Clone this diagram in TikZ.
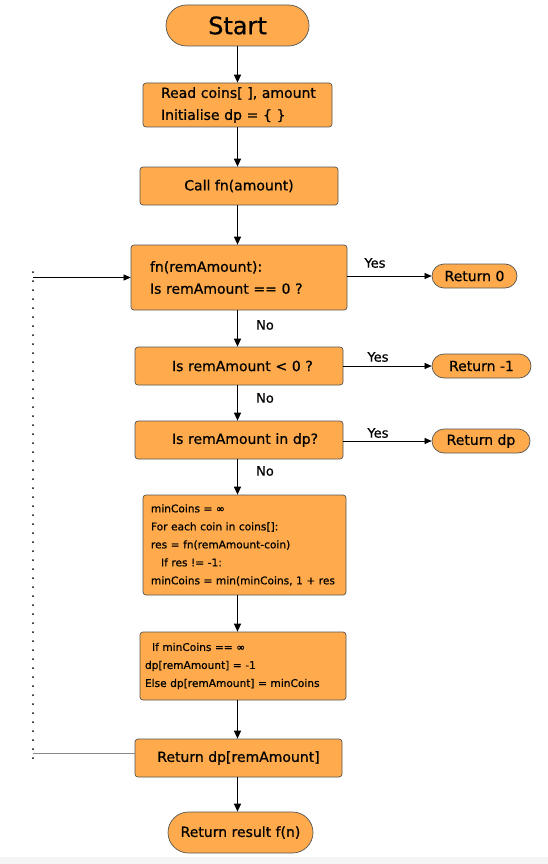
\documentclass[tikz,border=0pt]{standalone}
\usepackage{fontspec}
\setmainfont{DejaVu Sans}[FakeBold=0.7]
\usetikzlibrary{arrows.meta}
\definecolor{orf}{HTML}{FFAA4C}
\definecolor{edge}{HTML}{555555}
\tikzset{
  box/.style={draw=edge, fill=orf, line width=0.7pt, rounded corners=3pt, inner ysep=0pt,
    font=\fontsize{14}{21}\selectfont},
  pill/.style={box, inner sep=0pt},
  lbox/.style={box, align=left, anchor=center},
  arr/.style={-{Triangle[length=8pt,width=7pt]}, line width=1.2pt, black},
  harr/.style={-{Triangle[length=7pt,width=6pt]}, line width=0.6pt, black},
  lbl/.style={font=\fontsize{13}{14}\selectfont, inner sep=0pt},
}
\begin{document}
\begin{tikzpicture}[x=1pt,y=-1pt]
\useasboundingbox (0,0) rectangle (548,864);
\fill[gray!8] (0,857) rectangle (548,864);
% nodes
\node[pill, minimum width=143pt, minimum height=41pt, rounded corners=20.5pt,
  font=\fontsize{24}{26}\selectfont] (start) at (237.5,25.5) {Start};
\node[lbox, minimum width=189pt, minimum height=44pt, text width=153pt, inner xsep=18pt,
  font=\fontsize{14}{22}\selectfont] (read) at (237.5,105)
  {\mbox{Read coins[ ], amount}\\\mbox{Initialise dp = \{ \}}};
\node[box, minimum width=198pt, minimum height=38pt] (call) at (239,186) {Call fn(amount)};
\node[lbox, minimum width=216pt, minimum height=65pt, text width=178pt, inner xsep=19pt,
  font=\fontsize{14}{22}\selectfont] (fn) at (239,277.5)
  {\mbox{fn(remAmount):}\\\mbox{Is remAmount == 0 ?}};
\node[pill, minimum width=85pt, minimum height=24pt, rounded corners=12pt] (ret0) at (474.5,276) {Return 0};
\node[lbox, minimum width=208pt, minimum height=38pt, text width=134pt, inner xsep=37pt] (neg) at (239,366) {\mbox{Is remAmount < 0 ?}};
\node[pill, minimum width=99pt, minimum height=24pt, rounded corners=12pt] (ret1) at (481.5,366) {Return -1};
\node[lbox, minimum width=208pt, minimum height=38pt, text width=134pt, inner xsep=37pt] (indp) at (239,440) {\mbox{Is remAmount in dp?}};
\node[pill, minimum width=98pt, minimum height=24pt, rounded corners=12pt] (retdp) at (481,441) {Return dp};
\node[lbox, minimum width=203pt, minimum height=100pt, text width=187pt, inner xsep=8pt,
  font=\fontsize{10.6}{18}\selectfont] (loop) at (244.5,545)
  {minCoins = ∞\\For each coin in coins[]:\\res = fn(remAmount-coin)\\\hspace*{10pt}If res != -1:\\\mbox{minCoins = min(minCoins, 1 + res}};
\node[lbox, minimum width=206pt, minimum height=68pt, text width=196pt, inner xsep=5pt,
  font=\fontsize{10.6}{18}\selectfont] (ifmin) at (243,666)
  {\hspace*{7pt}If minCoins == ∞\\dp[remAmount] = -1\\\mbox{Else dp[remAmount] = minCoins}};
\node[box, minimum width=207pt, minimum height=38pt] (retdpr) at (238.5,758) {Return dp[remAmount]};
\node[pill, minimum width=145pt, minimum height=41pt, rounded corners=20.5pt] (end) at (240.5,832.5) {Return result f(n)};
% vertical arrows
\draw[arr] (start.south) -- (start.south |- read.north);
\draw[arr] (read.south) -- (read.south |- call.north);
\draw[arr] (read.south |- call.south) -- (read.south |- fn.north);
\draw[arr] (read.south |- fn.south) -- (read.south |- neg.north);
\draw[arr] (read.south |- neg.south) -- (read.south |- indp.north);
\draw[arr] (read.south |- indp.south) -- (read.south |- loop.north);
\draw[arr] (read.south |- loop.south) -- (read.south |- ifmin.north);
\draw[arr] (read.south |- ifmin.south) -- (read.south |- retdpr.north);
\draw[arr] (read.south |- retdpr.south) -- (read.south |- end.north);
% yes arrows
\draw[harr] (fn.east |- ret0) -- (ret0.west);
\draw[harr] (neg.east |- ret1) -- (ret1.west);
\draw[harr] (indp.east |- retdp) -- (retdp.west);
% labels
\node[lbl] (y1) at (375,263) {Yes};
\node[lbl] (y2) at (378,357) {Yes};
\node[lbl] (y3) at (378,433) {Yes};
\node[lbl] (n1) at (265,325) {No};
\node[lbl] (n2) at (265,398) {No};
\node[lbl] (n3) at (265,471) {No};
% loop back
\coordinate (lb) at (33,753);
\coordinate (lt) at (33,277.5);
\draw[edge!70, line width=0.7pt] (retdpr.west |- lb) -- (lb);
\draw[line width=2pt, line cap=round, dash pattern=on 0pt off 9pt] ([yshift=-5pt]lb) -- ([yshift=6pt]lt);
\draw[harr] (lt) -- (fn.west);
\end{tikzpicture}
\end{document}
